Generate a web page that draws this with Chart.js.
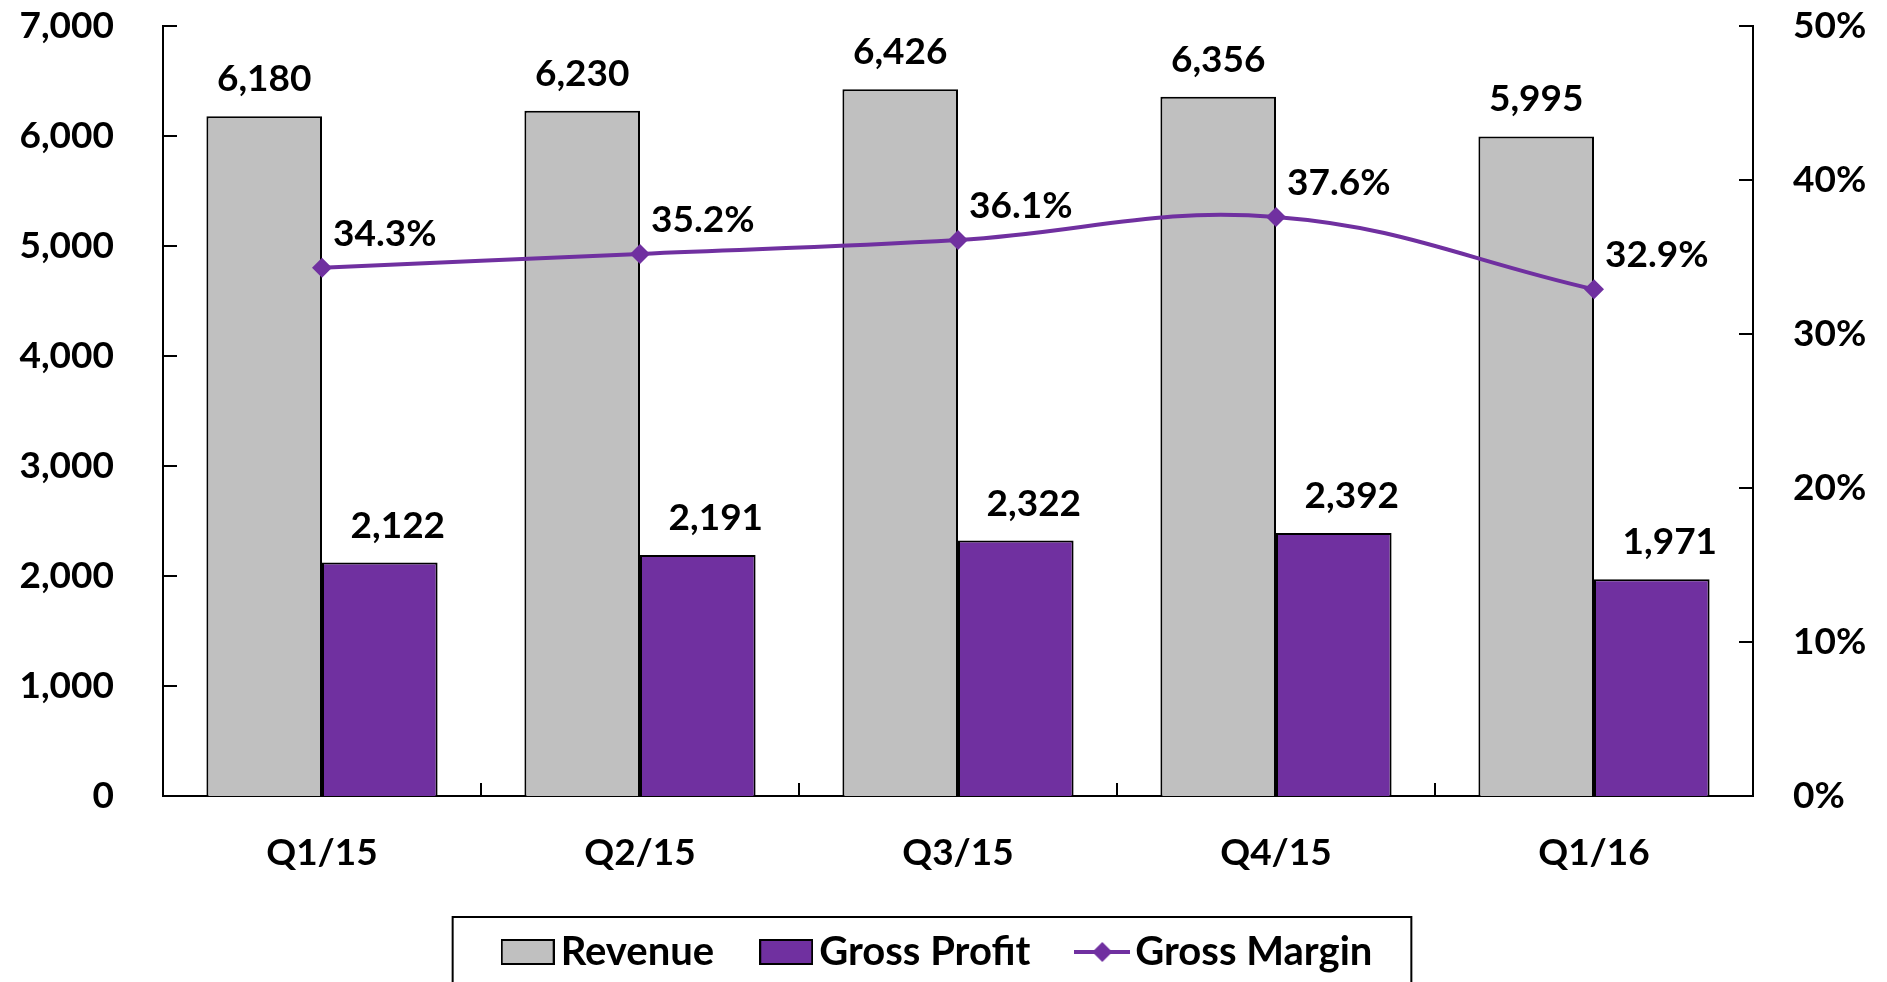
<!DOCTYPE html>
<html>
<head>
<meta charset="utf-8">
<script src="https://cdn.jsdelivr.net/npm/chart.js@4.4.0/dist/chart.umd.min.js"></script>
<style>
  body { margin: 0; background: #fff; }
  #wrap { width: 1887px; height: 982px; }
</style>
</head>
<body>
<div id="wrap"><canvas id="chart" width="1887" height="982"></canvas></div>
<script>
// data
const quarters = ["Q1/15", "Q2/15", "Q3/15", "Q4/15", "Q1/16"];
const revenue = [6180, 6230, 6426, 6356, 5995];
const grossProfit = [2122, 2191, 2322, 2392, 1971];
const grossMargin = [34.3, 35.2, 36.1, 37.6, 32.9];
const amountAxis = [0, 7000, 1000];   // min, max, step
const marginAxis = [0, 50, 10];

const GRAY = "#C0C0C0";
const PURPLE = "#7030A0";
const FONT = { family: "Lato", weight: "bold", size: 37 };
const LEGEND_FONT = { family: "Lato", weight: "bold", size: 40 };

Chart.defaults.font.family = FONT.family;
Chart.defaults.font.weight = FONT.weight;
Chart.defaults.font.size = FONT.size;
Chart.defaults.color = "#000";

// legend icons
function boxIcon(fill) {
    let c = document.createElement("canvas");
    c.width = 54; c.height = 26;
    let g = c.getContext("2d");
    g.fillStyle = fill;
    g.fillRect(1, 1, 52, 24);
    g.strokeStyle = "#000";
    g.lineWidth = 2;
    g.strokeRect(1, 1, 52, 24);
    return c;
}
function lineIcon() {
    let c = document.createElement("canvas");
    c.width = 56; c.height = 26;
    let g = c.getContext("2d");
    g.strokeStyle = PURPLE;
    g.lineWidth = 4;
    g.beginPath();
    g.moveTo(0, 13); g.lineTo(56, 13);
    g.stroke();
    g.fillStyle = PURPLE;
    g.beginPath();
    g.moveTo(28, 3); g.lineTo(38, 13); g.lineTo(28, 23); g.lineTo(18, 13);
    g.closePath();
    g.fill();
    return c;
}
const icons = [boxIcon(GRAY), boxIcon(PURPLE), lineIcon()];

// ticks pointing into the plot
const innerTicks = {
    id: "innerTicks",
    beforeDatasetsDraw(chart) {
        const { ctx, chartArea: a, scales: { x, y, y1 } } = chart;
        ctx.save();
        ctx.strokeStyle = "#000";
        ctx.lineWidth = 2;
        ctx.beginPath();
        y.ticks.forEach(t => {
            let py = Math.round(y.getPixelForValue(t.value));
            ctx.moveTo(a.left, py); ctx.lineTo(a.left + 14, py);
        });
        y1.ticks.forEach(t => {
            let py = Math.round(y1.getPixelForValue(t.value));
            ctx.moveTo(a.right, py); ctx.lineTo(a.right - 14, py);
        });
        for (let i = 1; i < quarters.length; i++) {
            let px = (x.getPixelForValue(i - 1) + x.getPixelForValue(i)) / 2;
            ctx.moveTo(px, a.bottom); ctx.lineTo(px, a.bottom - 13);
        }
        ctx.stroke();
        ctx.restore();
    }
};

// value labels
const valueLabels = {
    id: "valueLabels",
    afterDatasetsDraw(chart) {
        const ctx = chart.ctx;
        ctx.save();
        ctx.font = "bold 37px Lato";
        ctx.fillStyle = "#000";
        ctx.textBaseline = "middle";
        chart.data.datasets.forEach((ds, di) => {
            let meta = chart.getDatasetMeta(di);
            meta.data.forEach((el, i) => {
                let v = ds.data[i];
                if (ds.type === "line") {
                    ctx.textAlign = "left";
                    ctx.fillText(v.toFixed(1) + "%", el.x + 11, el.y - 34);
                } else {
                    ctx.textAlign = "center";
                    let dx = di === 1 ? 18 : 0;
                    ctx.fillText(v.toLocaleString("en-US"), el.x + dx, el.y - 37);
                }
            });
        });
        ctx.restore();
    }
};

// frame around the legend (cut by the bottom edge like the reference)
const legendFrame = {
    id: "legendFrame",
    afterDraw(chart) {
        const boxes = chart.legend.legendHitBoxes;
        if (!boxes || !boxes.length) return;
        const ctx = chart.ctx;
        let first = boxes[0], last = boxes[boxes.length - 1];
        let left = first.left - 62;
        let right = last.left + last.width + 39;
        let top = first.top - 15;
        ctx.save();
        ctx.strokeStyle = "#000";
        ctx.lineWidth = 2;
        ctx.beginPath();
        ctx.moveTo(left, chart.height + 5);
        ctx.lineTo(left, top);
        ctx.lineTo(right, top);
        ctx.lineTo(right, chart.height + 5);
        ctx.stroke();
        ctx.restore();
    }
};

function noEdgePadding(s) {
    s.paddingTop = 0;
    s.paddingBottom = 0;
}

new Chart(document.getElementById("chart"), {
    data: {
        labels: quarters,
        datasets: [
            {
                type: "bar",
                label: "Revenue",
                data: revenue,
                yAxisID: "y",
                backgroundColor: GRAY,
                borderColor: "#000",
                borderWidth: 2,
                categoryPercentage: 0.727,
                barPercentage: 1.0,
                order: 1
            },
            {
                type: "bar",
                label: "Gross Profit",
                data: grossProfit,
                yAxisID: "y",
                backgroundColor: PURPLE,
                borderColor: "#000",
                borderWidth: 2,
                categoryPercentage: 0.727,
                barPercentage: 1.0,
                order: 1
            },
            {
                type: "line",
                label: "Gross Margin",
                data: grossMargin,
                yAxisID: "y1",
                borderColor: PURPLE,
                borderWidth: 4,
                tension: 0.4,
                pointStyle: "rectRot",
                pointRadius: 10,
                pointBackgroundColor: PURPLE,
                pointBorderWidth: 0,
                order: 0
            }
        ]
    },
    options: {
        responsive: false,
        animation: false,
        layout: { padding: { top: 26, left: 0, right: 0, bottom: 0 } },
        plugins: {
            tooltip: { enabled: false },
            legend: {
                position: "bottom",
                labels: {
                    usePointStyle: true,
                    pointStyleWidth: 26,
                    boxHeight: 24,
                    padding: 59,
                    font: LEGEND_FONT,
                    generateLabels(chart) {
                        return chart.data.datasets.map((ds, i) => ({
                            text: ds.label,
                            pointStyle: icons[i],
                            datasetIndex: i,
                            hidden: false,
                            lineWidth: 0,
                            fontColor: "#000"
                        }));
                    }
                }
            }
        },
        scales: {
            x: {
                grid: { display: false, drawTicks: false },
                border: { display: true, color: "#000", width: 2 },
                ticks: { padding: 35, font: FONT, maxRotation: 0 },
                afterFit(s) { s.height = 77; }
            },
            y: {
                position: "left",
                min: amountAxis[0],
                max: amountAxis[1],
                grid: { display: false, drawTicks: false },
                border: { display: true, color: "#000", width: 2 },
                ticks: {
                    stepSize: amountAxis[2],
                    padding: 49,
                    font: FONT,
                    callback: v => v.toLocaleString("en-US")
                },
                afterFit(s) { s.width = 163; noEdgePadding(s); }
            },
            y1: {
                position: "right",
                min: marginAxis[0],
                max: marginAxis[1],
                grid: { display: false, drawTicks: false },
                border: { display: true, color: "#000", width: 2 },
                ticks: {
                    stepSize: marginAxis[2],
                    padding: 40,
                    font: FONT,
                    callback: v => v + "%"
                },
                afterFit(s) { s.width = 134; noEdgePadding(s); }
            }
        }
    },
    plugins: [innerTicks, valueLabels, legendFrame]
});
</script>
</body>
</html>
